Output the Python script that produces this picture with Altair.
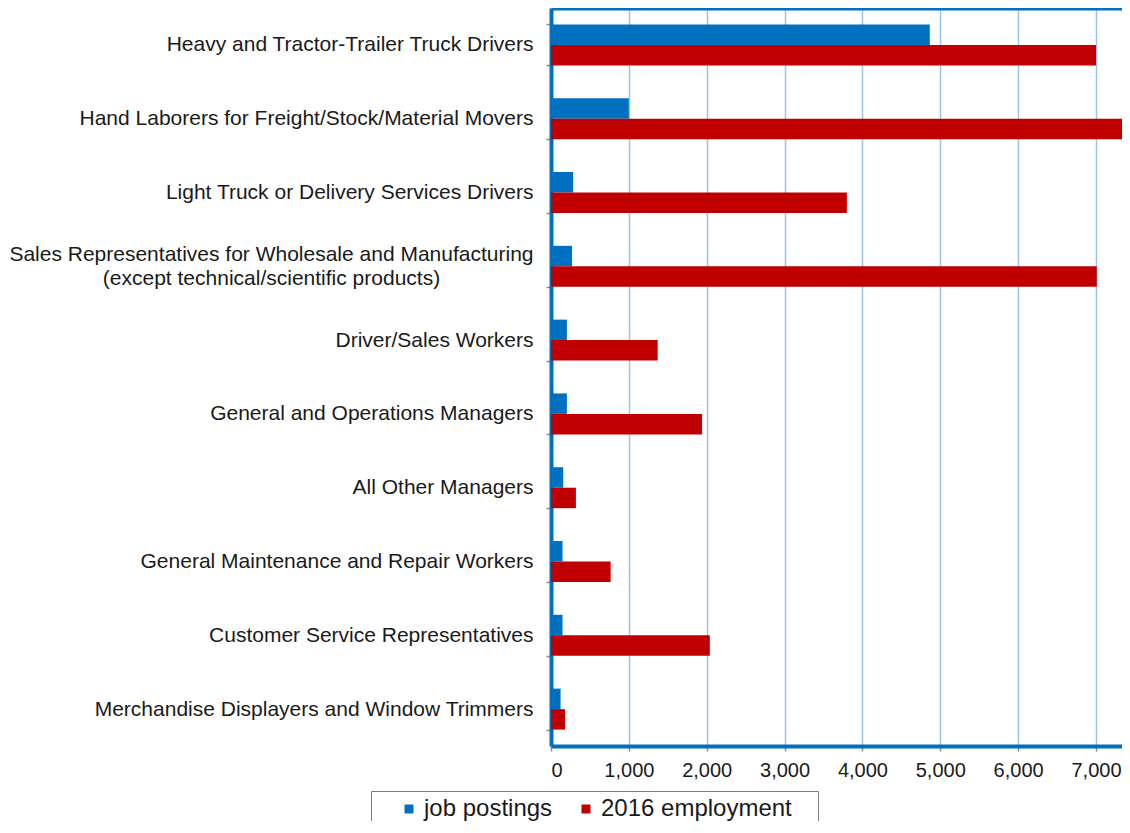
import altair as alt
import pandas as pd

NB = "\u00a0"
ZW = "\u200b"
categories = [
    "Heavy and Tractor-Trailer Truck Drivers",
    "Hand Laborers for Freight/Stock/Material Movers",
    "Light Truck or Delivery Services Drivers",
    "Sales Representatives for Wholesale and Manufacturing|" + NB + ZW + "|(except technical/scientific products)" + NB * 16 + ZW,
    "Driver/Sales Workers",
    "General and Operations Managers",
    "All Other Managers",
    "General Maintenance and Repair Workers",
    "Customer Service Representatives",
    "Merchandise Displayers and Window Trimmers",
]
job_postings = [4865, 1000, 285, 270, 204, 204, 157, 148, 148, 123]
employment_2016 = [7000, 7500, 3800, 7010, 1370, 1940, 320, 766, 2040, 180]
series_names = ["job postings", "2016 employment" + NB * 3 + ZW]
series_colors = ["#0070C0", "#C00000"]
x_ticks = [0, 1000, 2000, 3000, 4000, 5000, 6000, 7000]

rows = []
for c, jp, em in zip(categories, job_postings, employment_2016):
    rows.append({"category": c, "series": series_names[0], "value": jp})
    rows.append({"category": c, "series": series_names[1], "value": em})
df = pd.DataFrame(rows)

FONT = "Liberation Sans"
x_scale = alt.Scale(domain=[0, 7334], nice=False)

y_enc = alt.Y(
    "category:N",
    sort=categories,
    title=None,
    scale=alt.Scale(paddingInner=0.445, paddingOuter=0.2225),
    axis=alt.Axis(
        labelExpr="indexof(datum.label, '|') >= 0 ? split(datum.label, '|') : ['', datum.label]",
        labelFontSize=21,
        labelFont=FONT,
        labelColor="#1a1a1a",
        labelLimit=700,
        labelLineHeight=12,
        labelOffset=-12,
        labelPadding=13,
        tickBand="extent",
        tickSize=5,
        tickColor="#8c8c8c",
        tickWidth=1.5,
        domainColor="#0070C0",
        domainWidth=4,
        grid=False,
    ),
)

bars = alt.Chart(df).mark_bar(clip=True).encode(
    x=alt.X(
        "value:Q",
        scale=x_scale,
        title=None,
        axis=alt.Axis(
            values=x_ticks,
            format=",d",
            labelFontSize=20,
            labelFont=FONT,
            labelColor="#1a1a1a",
            labelPadding=9,
            tickSize=5,
            tickColor="#8c8c8c",
            tickWidth=1.5,
            domainColor="#0070C0",
            domainWidth=4,
            grid=True,
            gridColor="#9DC3E6",
            gridWidth=1.5,
        ),
    ),
    y=y_enc,
    yOffset=alt.YOffset("series:N", sort=series_names),
    color=alt.Color(
        "series:N",
        scale=alt.Scale(domain=series_names, range=series_colors),
        legend=alt.Legend(
            title=NB,
            titleOrient="left",
            titleFontSize=24,
            titlePadding=20,
            orient="none",
            direction="horizontal",
            legendX=-180,
            legendY=783,
            padding=6,
            strokeColor="#7f7f7f",
            fillColor="white",
            symbolType="square",
            symbolSize=81,
            symbolStrokeWidth=0,
            labelFontSize=24,
            labelFont=FONT,
            labelColor="#1a1a1a",
            labelOffset=3,
            columnPadding=21,
            labelLimit=400,
        ),
    ),
)

top_border = alt.Chart(df).mark_bar(opacity=0, clip=True).encode(
    x=alt.X(
        "value:Q",
        scale=x_scale,
        title=None,
        axis=alt.Axis(
            orient="top",
            labels=False,
            ticks=False,
            grid=False,
            domainColor="#0070C0",
            domainWidth=4,
        ),
    ),
    y=y_enc,
)

chart = (
    alt.layer(bars, top_border)
    .resolve_axis(x="independent")
    .properties(
        width=571,
        height=738,
        autosize=alt.AutoSizeParams(type="none"),
        padding={"left": 543, "top": 0, "right": 0, "bottom": 75},
    )
    .configure_view(stroke=None)
)

chart.save("out.html", embed_options={"renderer": "svg", "actions": False})
